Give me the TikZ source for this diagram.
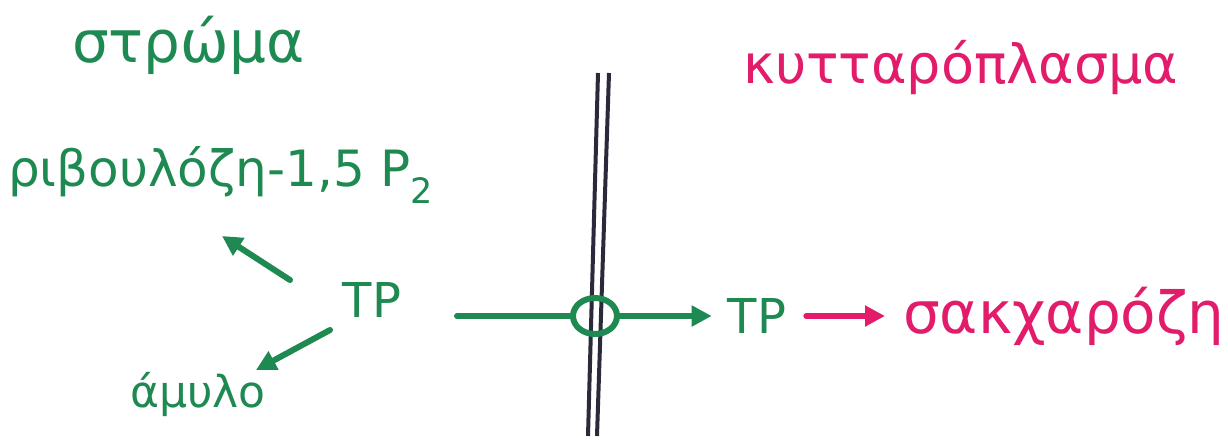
\documentclass[tikz,border=0pt]{standalone}
\usepackage{fontspec}
\setmainfont{DejaVu Sans}
\usetikzlibrary{arrows.meta,shapes.geometric}
\definecolor{grn}{HTML}{1E8A52}
\definecolor{pnk}{HTML}{E21C6A}
\definecolor{mem}{HTML}{2A2A3A}
\tikzset{
  g/.style={text=grn, inner sep=0pt},
  p/.style={text=pnk, inner sep=0pt},
  fs/.style={font=\fontsize{#1}{#1}\selectfont},
  garr/.style={draw=grn, line width=6pt, line cap=round, -{Triangle[length=20pt,width=20pt]}},
  parr/.style={draw=pnk, line width=6pt, line cap=round, -{Triangle[length=20pt,width=20pt]}},
  gline/.style={draw=grn, line width=6pt, line cap=round},
  memline/.style={draw=mem, line width=4pt}
}
\begin{document}
\begin{tikzpicture}[x=1pt,y=-1pt]
\useasboundingbox (0,0) rectangle (1228,440);
\fill[white] (0,0) rectangle (1228,440);
% membrane
\coordinate (m1t) at (598,73);
\coordinate (m1b) at (588,436);
\coordinate (m2t) at (609,73);
\coordinate (m2b) at (597,436);
\draw[memline] (m1t) -- (m1b);
\draw[memline] (m2t) -- (m2b);
% labels
\node[g, fs=58, anchor=west] (stroma) at (72,45) {στρώμα};
\node[p, fs=54, anchor=west] (cyto) at (743,68) {κυτταρόπλασμα};
\node[g, fs=50, anchor=west] (rib) at (8,175) {ριβουλόζη-1,5 P\textsubscript{2}};
\node[g, fs=48] (tp1) at (372,300) {TP};
\node[g, fs=44] (amylo) at (198,394) {άμυλο};
\node[g, fs=48] (tp2) at (757,316) {TP};
\node[p, fs=58, anchor=west] (sac) at (903,316) {σακχαρόζη};
% transporter
\node[draw=grn, line width=6pt, ellipse, minimum width=44pt, minimum height=36pt, inner sep=0pt] (tr) at (595,316) {};
\coordinate (lstart) at (457,316);
\draw[gline] (lstart) -- (tr.west);
\draw[garr] (tr.east) -- ([xshift=-16pt]tp2.west);
\draw[parr] ([xshift=20pt]tp2.east) -- ([xshift=-18pt]tp2.east -| sac.west);
\coordinate (a1s) at (290,280);
\coordinate (a1e) at (222,236);
\draw[garr] (a1s) -- (a1e);
\coordinate (a2s) at (330,330);
\coordinate (a2e) at (256,370);
\draw[garr] (a2s) -- (a2e);
\end{tikzpicture}
\end{document}
